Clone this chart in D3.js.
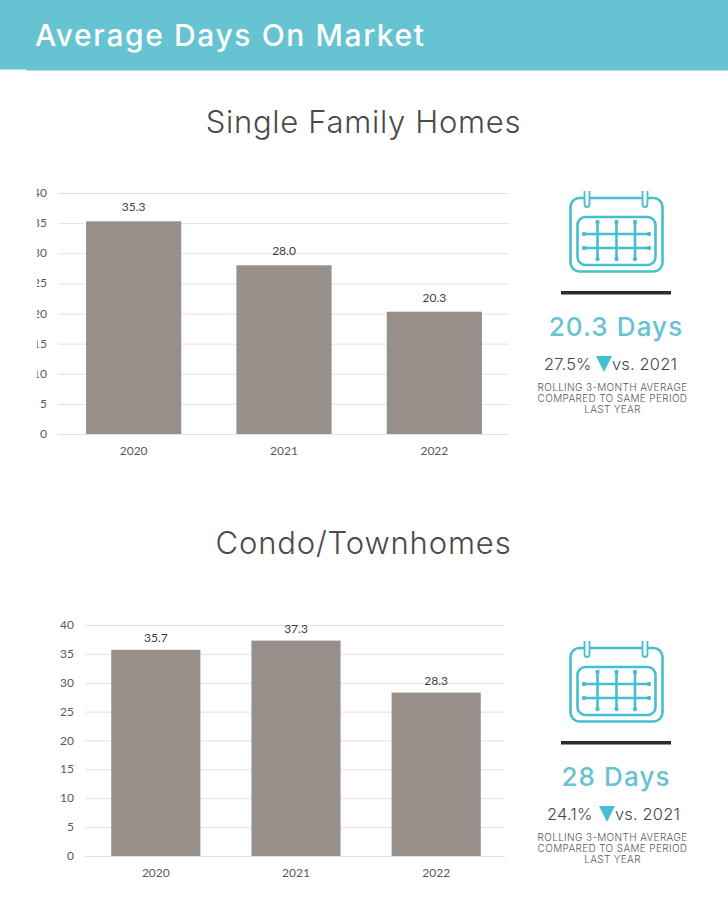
<!DOCTYPE html>
<html>
<head>
<meta charset="utf-8">
<script src="https://cdn.jsdelivr.net/npm/d3@7"></script>
<style>
  html, body { margin: 0; padding: 0; background: #fff; }
  svg { display: block; }
  .grid line { stroke: #e2e2e2; stroke-width: 1; }
  .tick-label { font-family: Lato, sans-serif; font-size: 12px; fill: #595959; }
  .bar-label { font-family: Lato, sans-serif; font-size: 12px; fill: #404040; }
  .heading { font-family: Inter, sans-serif; font-weight: 300; fill: #4a4a4a; }
</style>
</head>
<body>
<div id="chart"></div>
<script>
// CHART DATA
const years = ["2020", "2021", "2022"];
const singleFamilyDays = [35.3, 28.0, 20.3];
const condoDays = [35.7, 37.3, 28.3];
const yTicks = [0, 5, 10, 15, 20, 25, 30, 35, 40];
const noteLines = ["ROLLING 3-MONTH AVERAGE", "COMPARED TO SAME PERIOD", "LAST YEAR"];

// COLOURS
const teal = "#66c3d2";
const iconTeal = "#45bfcf";
const barColor = "#968f8a";

const svg = d3.select("#chart").append("svg")
    .attr("width", 728)
    .attr("height", 908);

// Header band, the left part sits one pixel higher
svg.append("rect").attr("x", 0).attr("y", 0).attr("width", 728).attr("height", 69.5).attr("fill", teal);
svg.append("rect").attr("x", 26).attr("y", 69).attr("width", 702).attr("height", 1.5).attr("fill", teal);
svg.append("text")
    .attr("x", 35).attr("y", 45.5)
    .attr("font-family", "Inter, sans-serif")
    .attr("font-size", 30)
    .attr("font-weight", 500)
    .attr("letter-spacing", 1.6)
    .attr("fill", "#fff")
    .text("Average Days On Market");

// Draw one bar chart with its gridlines and labels
const drawBars = (id, values, box) => {
    // Bars sit a pixel right of the gridlines' centre
    const x = d3.scaleBand()
        .domain(years)
        .range([box.left + 1, box.right + box.shift])
        .paddingInner(box.padding)
        .paddingOuter(0.18);
    const y = d3.scaleLinear().domain([0, 40]).range([box.bottom, box.top]);

    const g = svg.append("g");

    // The top chart has its y labels cut off on the left
    svg.append("clipPath").attr("id", id)
        .append("rect")
        .attr("x", box.clipLeft).attr("y", box.top - 20)
        .attr("width", 100).attr("height", box.bottom - box.top + 40);

    g.append("g").attr("class", "grid")
        .selectAll("line")
        .data(yTicks)
        .enter().append("line")
        .attr("x1", box.left)
        .attr("x2", box.right)
        .attr("y1", d => y(d) + 0.5)
        .attr("y2", d => y(d) + 0.5);

    g.append("g").attr("clip-path", `url(#${id})`)
        .selectAll("text")
        .data(yTicks)
        .enter().append("text")
        .attr("class", "tick-label")
        .attr("x", box.left - 11)
        .attr("y", d => y(d) + 4)
        .attr("text-anchor", "end")
        .text(d => d);

    g.selectAll("rect.bar")
        .data(values)
        .enter().append("rect")
        .attr("class", "bar")
        .attr("x", (d, i) => x(years[i]))
        .attr("y", d => y(d))
        .attr("width", x.bandwidth())
        .attr("height", d => box.bottom - y(d))
        .attr("fill", barColor);

    g.selectAll("text.bar-label")
        .data(values)
        .enter().append("text")
        .attr("class", "bar-label")
        .attr("x", (d, i) => x(years[i]) + x.bandwidth() / 2)
        .attr("y", d => y(d) - box.labelGap)
        .attr("text-anchor", "middle")
        .text(d => d.toFixed(1));

    g.selectAll("text.year-label")
        .data(years)
        .enter().append("text")
        .attr("class", "tick-label year-label")
        .attr("x", d => x(d) + x.bandwidth() / 2)
        .attr("y", box.bottom + 21)
        .attr("text-anchor", "middle")
        .text(d => d);
};

// Calendar icon, rule, headline number and notes beside each chart
const drawSide = (dy, headline, pct, pctX) => {
    const g = svg.append("g").attr("transform", `translate(0,${dy})`);
    const icon = g.append("g").attr("fill", "none").attr("stroke", iconTeal).attr("stroke-width", 2.6);

    icon.append("rect").attr("x", 570.5).attr("y", 198).attr("width", 92).attr("height", 73.5).attr("rx", 9);
    icon.append("rect").attr("x", 577.5).attr("y", 217).attr("width", 78).attr("height", 48).attr("rx", 8);

    [587, 645].forEach(rx => {
        icon.append("path")
            .attr("d", `M${rx - 2.5} 191V204q0 3 2.5 3t2.5 -3V191`)
            .attr("stroke-width", 1.8)
            .attr("fill", "#fff");
    });

    [597.5, 616.5, 635].forEach(vx => {
        icon.append("line").attr("x1", vx).attr("x2", vx).attr("y1", 222).attr("y2", 259);
        [222, 259].forEach(cy => {
            icon.append("circle").attr("cx", vx).attr("cy", cy).attr("r", 2.2).attr("fill", iconTeal).attr("stroke", "none");
        });
    });
    [234, 248].forEach(hy => {
        icon.append("line").attr("x1", 584).attr("x2", 649).attr("y1", hy).attr("y2", hy);
        [584, 649].forEach(cx => {
            icon.append("circle").attr("cx", cx).attr("cy", hy).attr("r", 2.2).attr("fill", iconTeal).attr("stroke", "none");
        });
    });

    g.append("rect").attr("x", 561).attr("y", 291).attr("width", 110).attr("height", 3.5).attr("fill", "#2e2a25");

    g.append("text")
        .attr("x", 616).attr("y", 336)
        .attr("text-anchor", "middle")
        .attr("font-family", "Inter, sans-serif")
        .attr("font-size", 26)
        .attr("font-weight", 500)
        .attr("letter-spacing", 1.1)
        .attr("fill", teal)
        .text(headline);

    const deltaFont = "Inter, sans-serif";
    g.append("text")
        .attr("x", pctX).attr("y", 370)
        .attr("font-family", deltaFont).attr("font-size", 16.4).attr("font-weight", 300)
        .attr("letter-spacing", 0.2)
        .attr("fill", "#3f4650")
        .text(pct);
    g.append("path")
        .attr("d", d3.line()([[pctX + 52, 356], [pctX + 68, 356], [pctX + 60, 372]]) + "Z")
        .attr("fill", iconTeal);
    g.append("text")
        .attr("x", pctX + 68).attr("y", 370)
        .attr("font-family", deltaFont).attr("font-size", 16.4).attr("font-weight", 300)
        .attr("letter-spacing", 0.2)
        .attr("fill", "#3f4650")
        .text("vs. 2021");

    g.selectAll("text.note")
        .data(noteLines)
        .enter().append("text")
        .attr("class", "note")
        .attr("x", 612.5)
        .attr("y", (d, i) => 391 + i * 11)
        .attr("text-anchor", "middle")
        .attr("font-family", "Inter, sans-serif")
        .attr("font-size", 10)
        .attr("font-weight", 300)
        .attr("letter-spacing", 0.35)
        .attr("fill", "#55585c")
        .text(d => d);
};

// SECTION TITLES
svg.append("text").attr("class", "heading")
    .attr("x", 363.5).attr("y", 132.5)
    .attr("text-anchor", "middle").attr("font-size", 31).attr("letter-spacing", 0.7)
    .text("Single Family Homes");
svg.append("text").attr("class", "heading")
    .attr("x", 363.5).attr("y", 553.5)
    .attr("text-anchor", "middle").attr("font-size", 31).attr("letter-spacing", 0.85)
    .text("Condo/Townhomes");

drawBars("clip-top", singleFamilyDays, {left: 58, right: 509, top: 193, bottom: 434, padding: 0.367, shift: 0, labelGap: 10, clipLeft: 37});
drawBars("clip-bottom", condoDays, {left: 85, right: 505, top: 625, bottom: 856, padding: 0.364, shift: 1, labelGap: 8, clipLeft: 0});

drawSide(0, "20.3 Days", "27.5%", 544);
drawSide(450, "28 Days", "24.1%", 547);
</script>
</body>
</html>
